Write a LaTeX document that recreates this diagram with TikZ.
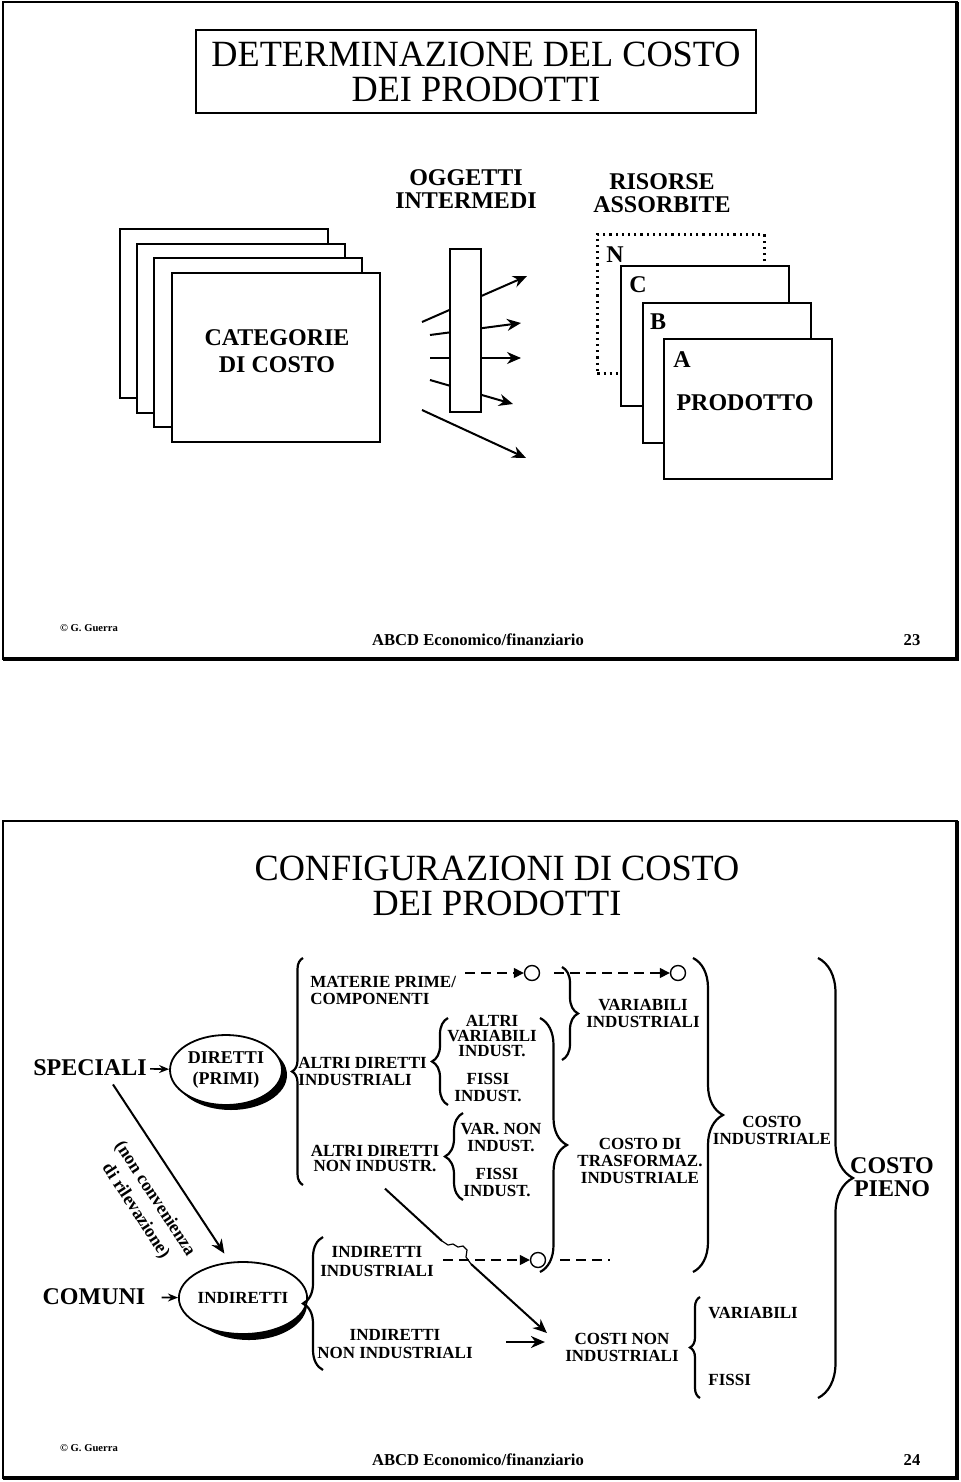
\documentclass[tikz,border=0pt]{standalone}
\usepackage{fontspec}
\setmainfont{Liberation Serif}
\newfontfamily\titlefont[FakeStretch=0.98]{Liberation Serif}
\usetikzlibrary{arrows.meta}
\usetikzlibrary{shapes.geometric}
\usetikzlibrary{decorations.pathreplacing}
\usetikzlibrary{calc}
\tikzset{slide/.style={line width=1pt}}
\tikzset{card/.style={draw, fill=white, line width=1.1pt}}
\tikzset{big/.style={font=\fontsize{12}{#1}\selectfont\bfseries, align=center, inner sep=0pt}, big/.default=13.5}
\tikzset{sml/.style={font=\fontsize{8.5}{#1}\selectfont\bfseries, align=center, inner sep=0pt}, sml/.default=8.5}
\tikzset{ttl/.style={font=\titlefont\fontsize{18.5}{17.5}\selectfont, align=center, inner sep=0pt}}
\tikzset{foot/.style={font=\fontsize{8.3}{9}\selectfont\bfseries, inner sep=0pt}}
\tikzset{oval/.style={ellipse, draw, fill=white, line width=0.9pt, inner sep=0pt}}
\tikzset{ovalsh/.style={ellipse, fill=black, inner sep=0pt}}
\tikzset{brc/.style={decorate, decoration={brace, amplitude=#1}, line width=1.1pt}}
\tikzset{dsh/.style={line width=0.7pt, dash pattern=on 5pt off 3pt, -{Triangle[length=5pt, width=5pt]}}}
\tikzset{ring/.style={circle, draw, line width=0.7pt, minimum size=7.5pt, inner sep=0pt}}
\tikzset{arr/.style={line width=1pt, -{Stealth[length=7pt, width=6pt]}}}
\tikzset{thin arr/.style={line width=0.8pt, -{Stealth[length=5pt, width=4pt]}}}

\begin{document}
\begin{tikzpicture}[x=0.5pt, y=-0.5pt]
  \useasboundingbox (0,0) rectangle (960,1482);
  %Slide 23
  \draw[slide] (3,2) rectangle (957,659);
  \draw[line width=2pt] (957,2) -- (957,659) -- (3,659);
  \node[ttl, draw, line width=0.6pt, minimum width=280pt, minimum height=41.5pt] (t1) at (476,71.5) {DETERMINAZIONE DEL COSTO\\DEI PRODOTTI};
  \node[big=11.5] (ogg) at (466,189) {OGGETTI\\INTERMEDI};
  \node[big=11.5] (ris) at (662,193) {RISORSE\\ASSORBITE};
  %Categorie di costo
  \foreach \i/\x/\y in {1/119/228, 2/136/243, 3/153/257, 4/171/272}
    \node[card, minimum width=104pt, minimum height=84.5pt, anchor=north west] (cat\i) at (\x,\y) {};
  \node[big] (catl) at (277,351) {CATEGORIE\\DI COSTO};
  %Oggetti intermedi
  \foreach \i/\a/\b/\c/\d in {1/422/322/527/276, 2/430/335/521/323, 3/430/358/521/358, 4/430/380/513/404, 5/422/410/526/458} {
    \coordinate (in\i) at (\a,\b);
    \coordinate (out\i) at (\c,\d);
    \draw[arr] (in\i) -- (out\i);
  }
  \node[draw, fill=white, line width=0.6pt, minimum width=15.5pt, minimum height=81.5pt, inner sep=0pt] (bar) at (465.5,330.5) {};
  %Risorse assorbite
  \node[card, dotted, line width=1.3pt, minimum width=83.5pt, minimum height=69.5pt, anchor=north west] (rN) at (596,233) {};
  \foreach \n/\x/\y in {C/620/265, B/642/302, A/663/338}
    \node[card, minimum width=84pt, minimum height=70pt, anchor=north west] (r\n) at (\x,\y) {};
  \node[big] (lN) at (615,255) {N};
  \node[big] (lC) at (638,285) {C};
  \node[big] (lB) at (658,322) {B};
  \node[big] (lA) at (682,360) {A};
  \node[big] (prod) at (745,403) {PRODOTTO};
  \node[font=\fontsize{5.3}{6}\selectfont\bfseries, inner sep=0pt] (au1) at (89,628) {\textcopyright{} G. Guerra};
  \node[foot] (ab1) at (478,640) {ABCD Economico/finanziario};
  \node[foot] (pg1) at (912,640) {23};

  %Slide 24
  \draw[slide] (3,821) rectangle (957,1478);
  \draw[line width=2pt] (957,821) -- (957,1478) -- (3,1478);
  \node[ttl] (t2) at (497,886) {CONFIGURAZIONI DI COSTO\\DEI PRODOTTI};
  %Speciali / comuni
  \node[big] (spe) at (90,1068) {SPECIALI};
  \node[ovalsh, minimum width=56pt, minimum height=35pt] (dirs) at (231,1075) {};
  \node[oval, sml=10.5, font=\fontsize{9}{10.5}\selectfont\bfseries, minimum width=56pt, minimum height=35pt] (dir) at (226,1070) {DIRETTI\\(PRIMI)};
  \draw[thin arr, shorten <=1.5pt] (spe) -- (dir);
  \node[big] (com) at (94,1297) {COMUNI};
  \node[ovalsh, minimum width=58pt, minimum height=36pt] (inds) at (249,1304) {};
  \node[oval, sml, minimum width=58pt, minimum height=36pt] (ind) at (243,1298) {INDIRETTI};
  \draw[thin arr, shorten <=8pt] (com) -- (ind);
  \draw[arr, shorten >=5pt] ($(spe.south)+(23,8)$) -- (ind.110);
  \node[sml=11.4, font=\fontsize{9}{11.4}\selectfont\bfseries, rotate=-57] (nc) at (145,1205) {(non convenienza\\di rilevazione)};
  %Diretti
  \draw[brc=5.5pt] (303,1185) -- (303,958);
  \node[sml, align=left, anchor=west] (mat) at (310,990) {MATERIE PRIME/\\COMPONENTI};
  \node[sml, align=left, anchor=west] (adi) at (298,1071) {ALTRI DIRETTI\\INDUSTRIALI};
  \node[sml=7.5] (adn) at (375,1158) {ALTRI DIRETTI\\NON INDUSTR.};
  \draw[brc=8pt] (448,1105) -- (448,1018);
  \node[sml=7.5] (avi) at (492,1036) {ALTRI\\VARIABILI\\INDUST.};
  \node[sml] (fi1) at (488,1087) {FISSI\\INDUST.};
  \draw[brc=9pt] (463,1200) -- (463,1113);
  \node[sml] (vni) at (501,1137) {VAR. NON\\INDUST.};
  \node[sml] (fi2) at (497,1182) {FISSI\\INDUST.};
  %Linee tratteggiate
  \coordinate (m0) at (465,973);
  \node[ring] (c1) at (532,973) {};
  \draw[dsh] (m0) -- (c1);
  \node[ring] (c2) at (678,973) {};
  \draw[dsh] ([xshift=7pt]c1.east) -- (c2);
  %Configurazioni
  \draw[brc=8pt] (562,967) -- (562,1060);
  \node[sml] (vin) at (643,1013) {VARIABILI\\INDUSTRIALI};
  \draw[brc=13.5pt] (540,1018) -- (540,1272);
  \node[sml] (ctr) at (640,1161) {COSTO DI\\TRASFORMAZ.\\INDUSTRIALE};
  \draw[brc=15pt] (693,958) -- (693,1272);
  \node[sml] (cin) at (772,1130) {COSTO\\INDUSTRIALE};
  \draw[brc=17.5pt] (818,958) -- (818,1398);
  \node[big=11.5] (cpi) at (892,1177) {COSTO\\PIENO};
  %Indiretti
  \draw[brc=10pt] (323,1370) -- (323,1237);
  \node[sml=9.5] (iin) at (377,1262) {INDIRETTI\\INDUSTRIALI};
  \node[sml=9] (inn) at (395,1344) {INDIRETTI\\NON INDUSTRIALI};
  \coordinate (m1) at (443,1260);
  \node[ring] (c3) at (538,1260) {};
  \draw[dsh] (m1) -- (c3);
  \draw[line width=0.7pt, dash pattern=on 5pt off 3pt] ([xshift=7pt]c3.east) -- ++(50,0);
  \node[sml] (cni) at (622,1347) {COSTI NON\\INDUSTRIALI};
  \draw[brc=5pt] (700,1398) -- (700,1297);
  \node[sml, anchor=west] (var) at (708,1313) {VARIABILI};
  \node[sml, anchor=west] (fis) at (708,1380) {FISSI};
  \coordinate (j0) at ($(adn.south)+(10,17)$);
  \coordinate (j1) at (442,1241);
  \coordinate (j2) at (471,1264);
  \draw[line width=1pt] (j0) -- (j1);
  \draw[line width=0.6pt] (j1) -- (448,1245) -- (453,1244) -- (458,1247) -- (463,1246) -- (467,1250) -- (466,1257) -- (j2);
  \draw[arr] (j2) -- ($(cni.west)+(-18,-14)$);
  \draw[arr] ($(inn.east)+(33,-2)$) -- ($(cni.west)+(-20,-5)$);
  \node[font=\fontsize{5.3}{6}\selectfont\bfseries, inner sep=0pt] (au2) at (89,1448) {\textcopyright{} G. Guerra};
  \node[foot] (ab2) at (478,1460) {ABCD Economico/finanziario};
  \node[foot] (pg2) at (912,1460) {24};
\end{tikzpicture}
\end{document}
